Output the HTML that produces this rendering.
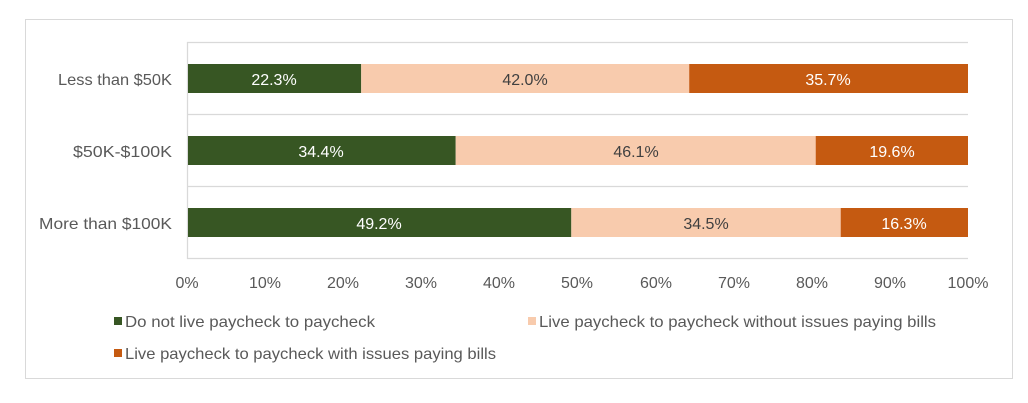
<!DOCTYPE html>
<html>
<head>
<meta charset="utf-8">
<style>
  html, body { margin:0; padding:0; background:#fff; }
  body { width:1028px; height:403px; overflow:hidden; }
  svg { display:block; }
  text { font-family: "Liberation Sans", sans-serif; font-size:16px; }
</style>
</head>
<body>
<svg width="1028" height="403" viewBox="0 0 1028 403" xmlns="http://www.w3.org/2000/svg">
  <rect x="0" y="0" width="1028" height="403" fill="#fff"/>
  <!-- frame -->
  <rect x="25.5" y="19.5" width="987" height="359" fill="#fff" stroke="#d9d9d9" stroke-width="1"/>

  <!-- gridlines -->
  <g stroke="#d9d9d9" stroke-width="1.3">
    <line x1="187" y1="42.5" x2="968" y2="42.5"/>
    <line x1="187" y1="114.5" x2="968" y2="114.5"/>
    <line x1="187" y1="186.5" x2="968" y2="186.5"/>
    <line x1="187" y1="258.5" x2="968" y2="258.5"/>
    <line x1="187.5" y1="42" x2="187.5" y2="259"/>
  </g>

  <!-- row 1 -->
  <rect x="188" y="64" width="173.2" height="29" fill="#375623"/>
  <rect x="361.2" y="64" width="328" height="29" fill="#f8cbad"/>
  <rect x="689.2" y="64" width="278.8" height="29" fill="#c55a11"/>
  <!-- row 2 -->
  <rect x="188" y="136" width="267.7" height="29" fill="#375623"/>
  <rect x="455.7" y="136" width="360" height="29" fill="#f8cbad"/>
  <rect x="815.7" y="136" width="152.3" height="29" fill="#c55a11"/>
  <!-- row 3 -->
  <rect x="188" y="208" width="383.3" height="29" fill="#375623"/>
  <rect x="571.3" y="208" width="269.4" height="29" fill="#f8cbad"/>
  <rect x="840.7" y="208" width="127.3" height="29" fill="#c55a11"/>

  <!-- data labels -->
  <g text-anchor="middle">
    <text x="274" y="85" fill="#fff">22.3%</text>
    <text x="525" y="85" fill="#404040">42.0%</text>
    <text x="828" y="85" fill="#fff">35.7%</text>

    <text x="321" y="157" fill="#fff">34.4%</text>
    <text x="636" y="157" fill="#404040">46.1%</text>
    <text x="892" y="157" fill="#fff">19.6%</text>

    <text x="379" y="229" fill="#fff">49.2%</text>
    <text x="706" y="229" fill="#404040">34.5%</text>
    <text x="904" y="229" fill="#fff">16.3%</text>
  </g>

  <!-- category labels -->
  <g fill="#595959">
    <text x="58" y="85" textLength="114" lengthAdjust="spacingAndGlyphs">Less than $50K</text>
    <text x="73" y="157" textLength="99" lengthAdjust="spacingAndGlyphs">$50K-$100K</text>
    <text x="39" y="229" textLength="133" lengthAdjust="spacingAndGlyphs">More than $100K</text>
  </g>

  <!-- x axis tick labels -->
  <g text-anchor="middle" fill="#595959">
    <text x="187" y="288">0%</text>
    <text x="265" y="288">10%</text>
    <text x="343" y="288">20%</text>
    <text x="421" y="288">30%</text>
    <text x="499" y="288">40%</text>
    <text x="577" y="288">50%</text>
    <text x="656" y="288">60%</text>
    <text x="734" y="288">70%</text>
    <text x="812" y="288">80%</text>
    <text x="890" y="288">90%</text>
    <text x="968" y="288">100%</text>
  </g>

  <!-- legend -->
  <rect x="114" y="317" width="8" height="8" fill="#375623"/>
  <text x="125" y="327" fill="#595959" textLength="250" lengthAdjust="spacingAndGlyphs">Do not live paycheck to paycheck</text>
  <rect x="528" y="317" width="8" height="8" fill="#f8cbad"/>
  <text x="539" y="327" fill="#595959" textLength="397" lengthAdjust="spacingAndGlyphs">Live paycheck to paycheck without issues paying bills</text>
  <rect x="114" y="349" width="8" height="8" fill="#c55a11"/>
  <text x="125" y="359" fill="#595959" textLength="371" lengthAdjust="spacingAndGlyphs">Live paycheck to paycheck with issues paying bills</text>
</svg>
</body>
</html>
